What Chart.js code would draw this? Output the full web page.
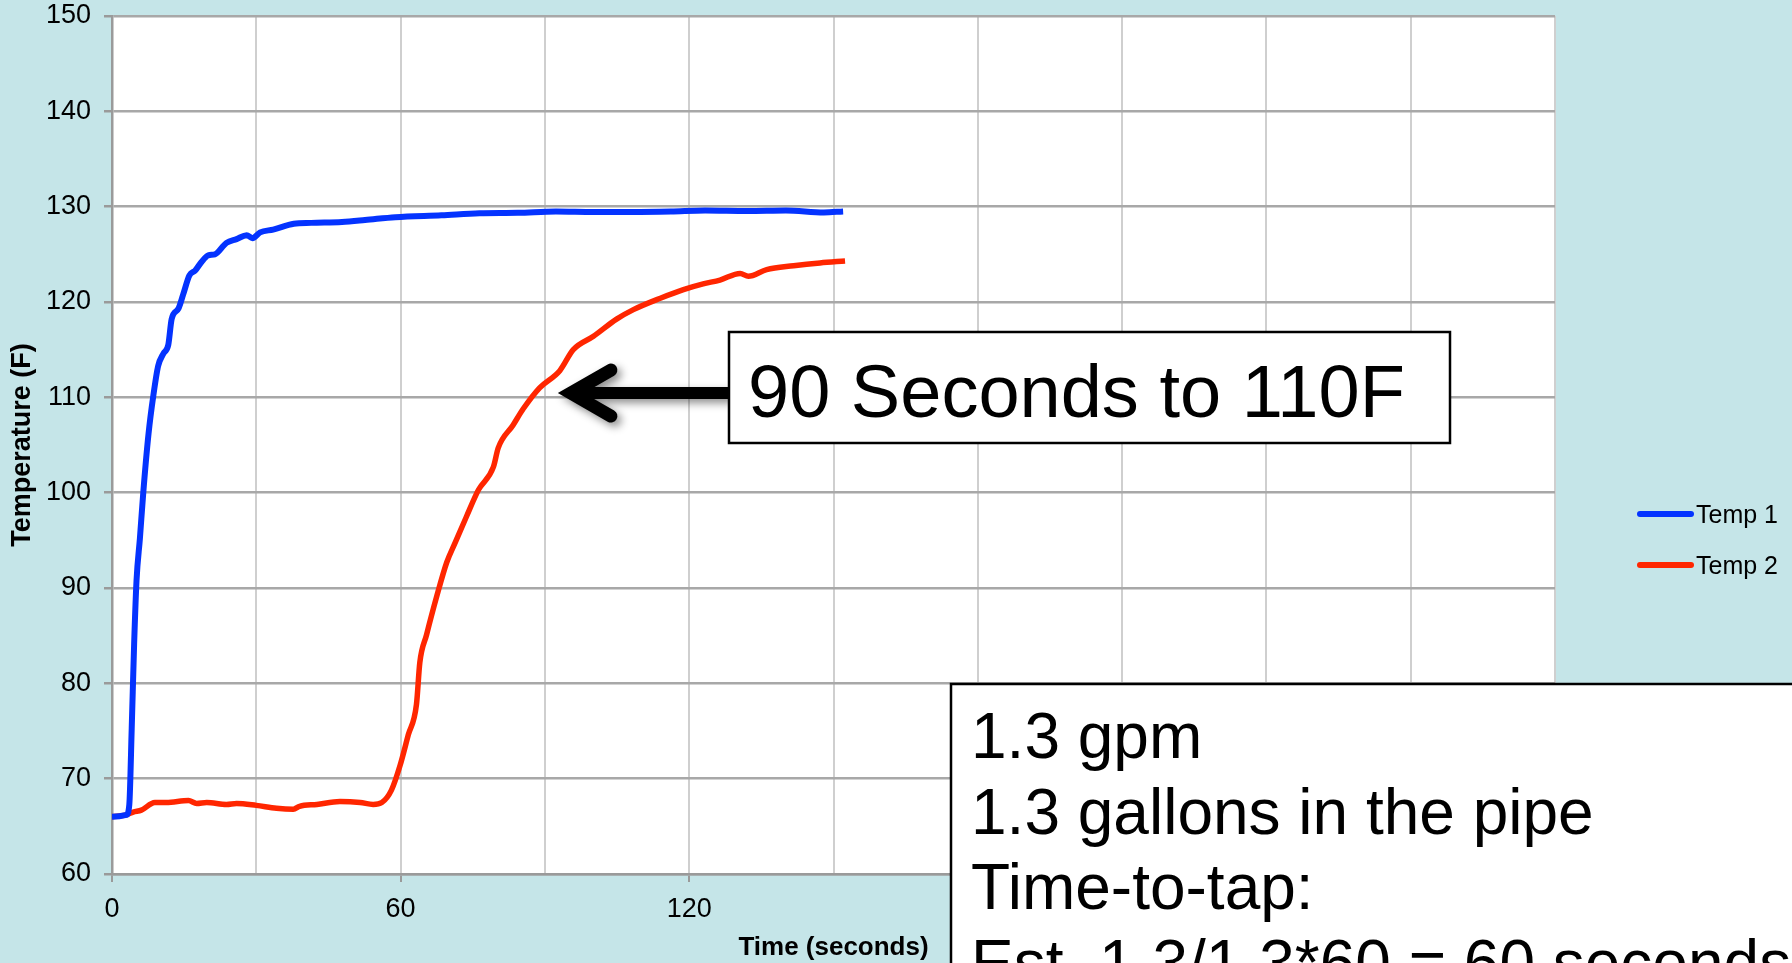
<!DOCTYPE html>
<html>
<head>
<meta charset="utf-8">
<script src="https://cdn.jsdelivr.net/npm/chart.js@4"></script>
<style>
  html, body { margin: 0; padding: 0; background: #c5e5e8; }
  canvas { display: block; }
</style>
</head>
<body>
<canvas id="chart" width="1792" height="963"></canvas>
<script>
// readings (seconds, degrees F)
const time1 = [0, 3.0, 3.6, 4.1, 4.6, 5.1, 5.8, 6.5, 7.6, 8.6, 9.6, 10.7, 11.7, 12.4, 13.8, 14.8, 16.1, 17.3, 18.6, 20.0, 21.4, 23.8, 25.9, 28.0, 29.2, 30.8, 33.5, 37.8, 41.4, 47.8, 52.6, 58.9, 68.5, 76.4, 84.4, 92.3, 100.2, 108.2, 116.2, 123.3, 132.1, 140.1, 148.0, 152.0];
const temp1 = [66.0, 66.2, 67.3, 75.3, 84.1, 90.8, 95.2, 100.0, 106.2, 110.2, 113.3, 114.6, 115.5, 118.2, 119.3, 120.8, 122.8, 123.3, 124.2, 124.9, 125.0, 126.2, 126.6, 127.0, 126.7, 127.3, 127.6, 128.2, 128.3, 128.4, 128.6, 128.9, 129.1, 129.3, 129.35, 129.5, 129.45, 129.45, 129.5, 129.6, 129.55, 129.6, 129.4, 129.5];

const time2 = [0, 3.0, 4.4, 6.1, 8.9, 11.3, 15.9, 17.6, 19.7, 23.8, 25.9, 30.0, 34.2, 37.7, 39.0, 42.6, 47.4, 51.6, 54.3, 56.1, 58.1, 59.9, 61.6, 63.3, 64.0, 65.4, 67.5, 69.6, 71.3, 73.7, 76.2, 79.3, 80.3, 83.4, 85.5, 88.9, 93.1, 95.9, 100.1, 104.9, 108.4, 114.0, 118.8, 122.9, 126.4, 130.6, 132.3, 136.1, 141.7, 147.2, 152.4];
const temp2 = [66.0, 66.2, 66.5, 66.7, 67.5, 67.5, 67.7, 67.4, 67.5, 67.3, 67.4, 67.2, 66.9, 66.8, 67.1, 67.3, 67.6, 67.5, 67.3, 67.5, 68.8, 71.4, 74.6, 77.8, 82.2, 85.1, 89.1, 92.7, 94.7, 97.5, 100.3, 102.7, 104.7, 107.1, 108.8, 111.0, 112.8, 115.0, 116.4, 118.2, 119.2, 120.4, 121.3, 121.9, 122.3, 123.0, 122.7, 123.4, 123.8, 124.1, 124.3];

const seriesNames = ["Temp 1", "Temp 2"];
const xTitle = "Time (seconds)";
const yTitle = "Temperature (F)";
const calloutText = "90 Seconds to 110F";
const calloutPoint = [92.7, 110.45];   // where the arrow points
const noteLines = ["1.3 gpm", "1.3 gallons in the pipe", "Time-to-tap:", "Est. 1.3/1.3*60 = 60 seconds"];

const FONT = "'Liberation Sans', Arial, sans-serif";
Chart.defaults.font.family = FONT;
Chart.defaults.color = "#000";

function pts(xs, ys) {
	return xs.map((x, i) => ({ x: x, y: ys[i] }));
}

// white plot area on the cyan slide
const plotBg = {
	id: "plotBg",
	beforeDraw(chart) {
		const a = chart.chartArea, ctx = chart.ctx;
		ctx.save();
		ctx.fillStyle = "#fff";
		ctx.fillRect(a.left, a.top, a.right - a.left, a.bottom - a.top);
		ctx.restore();
	}
};

// legend on the right, drawn by hand so it sits where it should
const sideLegend = {
	id: "sideLegend",
	afterDraw(chart) {
		const ctx = chart.ctx;
		ctx.save();
		ctx.font = "25px " + FONT;
		ctx.textBaseline = "middle";
		ctx.lineCap = "round";
		chart.data.datasets.forEach((ds, i) => {
			const y = 514 + i * 51;
			ctx.strokeStyle = ds.borderColor;
			ctx.lineWidth = 6;
			ctx.beginPath();
			ctx.moveTo(1640, y);
			ctx.lineTo(1691, y);
			ctx.stroke();
			ctx.fillStyle = "#000";
			ctx.fillText(ds.label, 1696, y + 2);
		});
		ctx.restore();
	}
};

// the two text boxes and the arrow
const notes = {
	id: "notes",
	afterDraw(chart) {
		const ctx = chart.ctx;
		const xs = chart.scales.x, ys = chart.scales.y;
		ctx.save();

		// arrow
		const tipX = xs.getPixelForValue(calloutPoint[0]);
		const tipY = ys.getPixelForValue(calloutPoint[1]);
		ctx.save();
		ctx.shadowColor = "rgba(0,0,0,0.45)";
		ctx.shadowBlur = 8;
		ctx.shadowOffsetX = 4;
		ctx.shadowOffsetY = 4;
		ctx.strokeStyle = "#000";
		ctx.lineWidth = 12;
		ctx.lineCap = "butt";
		ctx.beginPath();
		ctx.moveTo(tipX + 16, tipY);
		ctx.lineTo(730, tipY);
		ctx.stroke();
		ctx.lineWidth = 13;
		ctx.lineCap = "round";
		ctx.lineJoin = "miter";
		ctx.beginPath();
		ctx.moveTo(tipX + 53, tipY - 23);
		ctx.lineTo(tipX + 13, tipY);
		ctx.lineTo(tipX + 53, tipY + 23);
		ctx.stroke();
		ctx.restore();

		// callout box
		ctx.fillStyle = "#fff";
		ctx.fillRect(729, 332, 721, 111);
		ctx.strokeStyle = "#000";
		ctx.lineWidth = 2.5;
		ctx.strokeRect(729, 332, 721, 111);
		ctx.fillStyle = "#000";
		ctx.font = "74px " + FONT;
		ctx.textBaseline = "alphabetic";
		ctx.fillText(calloutText, 748, 417);

		// note box, runs off the slide
		ctx.fillStyle = "#fff";
		ctx.fillRect(951, 684, 900, 400);
		ctx.strokeRect(951, 684, 900, 400);
		ctx.fillStyle = "#000";
		ctx.font = "64px " + FONT;
		noteLines.forEach((line, i) => {
			ctx.fillText(line, 971, 758 + i * 75.5);
		});

		ctx.restore();
	}
};

new Chart(document.getElementById("chart"), {
	type: "line",
	data: {
		datasets: [
			{
				label: seriesNames[0],
				data: pts(time1, temp1),
				borderColor: "#0433ff",
				borderWidth: 6,
				pointRadius: 0,
				cubicInterpolationMode: "monotone",
				fill: false
			},
			{
				label: seriesNames[1],
				data: pts(time2, temp2),
				borderColor: "#ff2600",
				borderWidth: 5.5,
				pointRadius: 0,
				cubicInterpolationMode: "monotone",
				fill: false
			}
		]
	},
	options: {
		responsive: false,
		devicePixelRatio: 1,
		animation: false,
		events: [],
		layout: { padding: { left: 0, top: 16, right: 237, bottom: 0 } },
		plugins: {
			legend: { display: false },
			tooltip: { enabled: false }
		},
		scales: {
			x: {
				type: "linear",
				min: 0,
				max: 300,
				afterFit(s) {
					s.height = 89;
					s.paddingLeft = 0;
					s.paddingRight = 0;
				},
				ticks: {
					stepSize: 30,
					font: { size: 27 },
					padding: 11,
					maxRotation: 0,
					autoSkip: false,
					callback: (v) => (v % 60 === 0 ? v : "")
				},
				grid: {
					color: "#cfcfcf",
					lineWidth: 2,
					tickLength: 8,
					tickColor: (c) => (c.tick && c.tick.value % 60 === 0 ? "#9a9a9a" : "rgba(0,0,0,0)")
				},
				border: { color: "#9a9a9a", width: 2.5 },
				title: {
					display: true,
					text: xTitle,
					font: { size: 26, weight: "bold" },
					padding: { top: 0, bottom: 0 }
				}
			},
			y: {
				min: 60,
				max: 150,
				afterFit(s) {
					s.width = 112;
					s.paddingTop = 0;
					s.paddingBottom = 0;
				},
				ticks: {
					stepSize: 10,
					font: { size: 27 },
					padding: 13
				},
				grid: {
					color: "#a8a8a8",
					lineWidth: 2.5,
					tickLength: 8,
					tickColor: "#9a9a9a"
				},
				border: { color: "#9a9a9a", width: 2.5 },
				title: {
					display: true,
					text: yTitle,
					font: { size: 27, weight: "bold" },
					padding: { top: 6, bottom: 0 }
				}
			}
		}
	},
	plugins: [plotBg, sideLegend, notes]
});
</script>
</body>
</html>
